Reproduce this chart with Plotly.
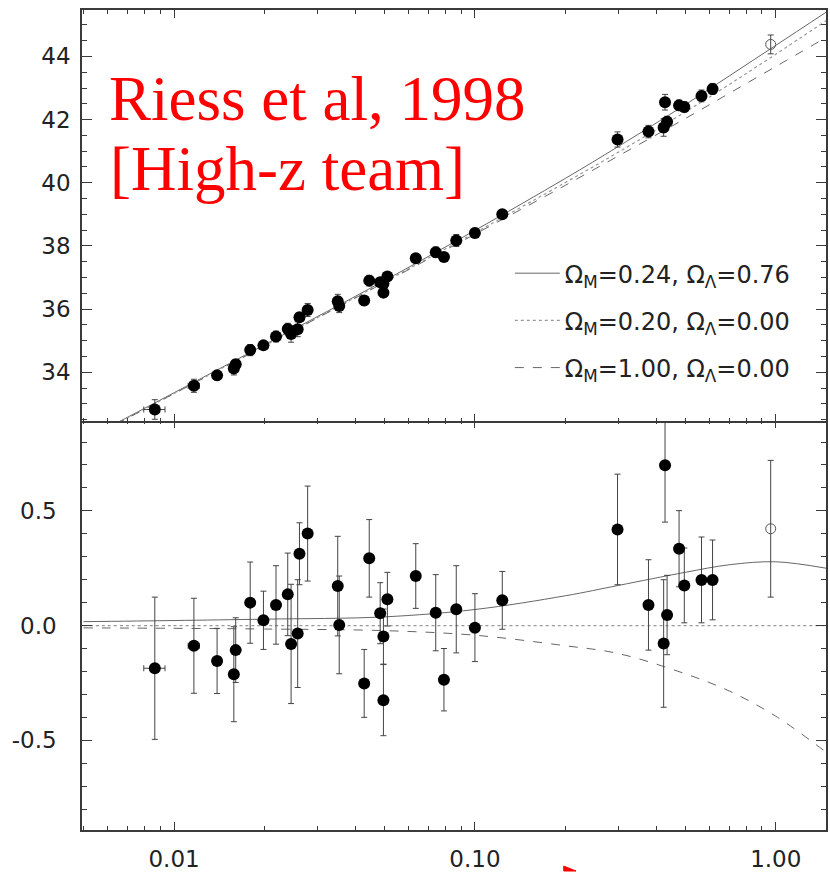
import plotly.graph_objects as go

# ---------------- data ----------------
z = [0.00863, 0.01164, 0.0139, 0.01603, 0.0158, 0.01791, 0.01982, 0.02182, 0.02387,
     0.02449, 0.02576, 0.02611, 0.0278, 0.0350, 0.0354, 0.04285, 0.04454, 0.04843,
     0.05118, 0.04965, 0.04965, 0.0636, 0.0741, 0.0789, 0.0867, 0.100, 0.1233,
     0.2979, 0.3775, 0.4285, 0.4240, 0.4353, 0.4771, 0.4966, 0.5665, 0.6165]
z_err = [0.0007, 0.0005] + [0.0] * 34
mu = [32.82, 33.57, 33.90, 34.25, 34.12, 34.70, 34.85, 35.13, 35.37,
      35.21, 35.36, 35.74, 35.97, 36.25, 36.10, 36.27, 36.90, 36.85,
      37.03, 36.80, 36.52, 37.61, 37.80, 37.65, 38.17, 38.41, 39.00,
      41.37, 41.62, 42.55, 41.75, 41.93, 42.45, 42.40, 42.75, 42.97]
d_mu = [-0.186, -0.088, -0.154, -0.107, -0.212, 0.100, 0.023, 0.090, 0.136,
        -0.080, -0.035, 0.313, 0.401, 0.172, 0.003, -0.252, 0.293, 0.054,
        0.115, -0.048, -0.325, 0.216, 0.056, -0.236, 0.071, -0.009, 0.110,
        0.419, 0.090, 0.699, -0.078, 0.046, 0.335, 0.175, 0.199, 0.199]
mu_err = [0.31, 0.207, 0.142, 0.141, 0.207, 0.177, 0.127, 0.171, 0.18,
          0.26, 0.235, 0.135, 0.207, 0.217, 0.213, 0.148, 0.169, 0.133,
          0.117, 0.12, 0.155, 0.141, 0.166, 0.136, 0.19, 0.148, 0.126,
          0.241, 0.197, 0.248, 0.278, 0.173, 0.166, 0.163, 0.187, 0.174]

# open-circle point
z_open = [0.962]
mu_open = [44.38]
d_mu_open = [0.422]
err_open = [0.298]

# model curves
curve_z = [0.005, 0.01, 0.02, 0.05, 0.1, 0.2, 0.3, 0.5, 0.7, 1.0, 1.47]
mu_lambda = [31.84, 33.35, 34.87, 36.90, 38.49, 40.14, 41.15, 42.47, 43.38, 44.35, 45.40]
mu_open_model = [31.82, 33.33, 34.84, 36.86, 38.415, 40.01, 40.97, 42.24, 43.11, 44.07, 45.13]
mu_flat_matter = [31.81, 33.32, 34.83, 36.84, 38.37, 39.92, 40.85, 42.03, 42.83, 43.68, 44.60]
res_lambda = [0.017, 0.022, 0.028, 0.038, 0.070, 0.130, 0.175, 0.232, 0.265, 0.278, 0.250]
res_open = [0.0, 0.0, 0.0, 0.0, 0.0, 0.0, 0.0, 0.0, 0.0, 0.0, 0.0]
res_flat_matter = [-0.010, -0.012, -0.015, -0.022, -0.042, -0.088, -0.122, -0.210, -0.285, -0.395, -0.552]

legend_names = ["Ω<sub>M</sub>=0.24, Ω<sub>Λ</sub>=0.76",
                "Ω<sub>M</sub>=0.20, Ω<sub>Λ</sub>=0.00",
                "Ω<sub>M</sub>=1.00, Ω<sub>Λ</sub>=0.00"]

x_tickvals = [0.01, 0.1, 1.0]
x_ticktext = ["0.01", "0.10", "1.00"]
top_tickvals = [34, 36, 38, 40, 42, 44]
bot_tickvals = [-0.5, 0.0, 0.5]
bot_ticktext = ["-0.5", "0.0", "0.5"]

# ---------------- figure ----------------
fig = go.Figure()

line_styles = [dict(color="#666666", width=1, dash="solid"),
               dict(color="#999999", width=1.2, dash="dot"),
               dict(color="#666666", width=1, dash="dash")]
top_curves = [mu_lambda, mu_open_model, mu_flat_matter]
bot_curves = [res_lambda, res_open, res_flat_matter]

for i in range(3):
    fig.add_trace(go.Scatter(x=curve_z, y=top_curves[i], mode="lines",
                             line=dict(shape="spline", **line_styles[i]),
                             name=legend_names[i], legendgroup=f"g{i}",
                             xaxis="x2", yaxis="y2", showlegend=True))
    fig.add_trace(go.Scatter(x=curve_z, y=bot_curves[i], mode="lines",
                             line=dict(shape="spline", **line_styles[i]),
                             legendgroup=f"g{i}", showlegend=False,
                             xaxis="x", yaxis="y"))

err_style = dict(type="data", color="#444444", thickness=1, width=3)

# top panel data
fig.add_trace(go.Scatter(x=z, y=mu, mode="markers",
                         marker=dict(color="black", size=12),
                         error_y=dict(array=mu_err, **err_style),
                         error_x=dict(array=z_err, **err_style),
                         xaxis="x2", yaxis="y2", showlegend=False))
fig.add_trace(go.Scatter(x=z_open, y=mu_open, mode="markers",
                         marker=dict(symbol="circle-open", color="#555555", size=10,
                                     line=dict(width=1)),
                         error_y=dict(array=err_open, **err_style),
                         xaxis="x2", yaxis="y2", showlegend=False))
# bottom panel data
fig.add_trace(go.Scatter(x=z, y=d_mu, mode="markers",
                         marker=dict(color="black", size=12),
                         error_y=dict(array=mu_err, **err_style),
                         error_x=dict(array=z_err, **err_style),
                         xaxis="x", yaxis="y", showlegend=False))
fig.add_trace(go.Scatter(x=z_open, y=d_mu_open, mode="markers",
                         marker=dict(symbol="circle-open", color="#555555", size=10,
                                     line=dict(width=1)),
                         error_y=dict(array=err_open, **err_style),
                         xaxis="x", yaxis="y", showlegend=False))

x_minor = [v * d for d in (0.001, 0.01, 0.1, 1.0) for v in range(2, 10)]
tickfont = dict(family="DejaVu Sans", size=23, color="#222222")
frame = dict(showline=True, linecolor="#3a3a3a", linewidth=1.5, mirror="allticks",
             ticks="inside", tickcolor="#3a3a3a", showgrid=False, zeroline=False)

xaxis_common = dict(type="log", range=[-2.306, 0.167], tickvals=x_tickvals,
                    ticklen=8, tickwidth=1.2,
                    minor=dict(tickmode="array", tickvals=x_minor, ticks="inside",
                               ticklen=4, tickcolor="#3a3a3a", tickwidth=1),
                    **frame)

fig.update_layout(
    width=830, height=874,
    margin=dict(l=82, r=2, t=10, b=41),
    paper_bgcolor="white", plot_bgcolor="white",
    showlegend=True,
    legend=dict(x=0.575, y=0.706, xanchor="left", yanchor="top",
                font=dict(family="DejaVu Sans", size=24, color="#222222"),
                bgcolor="rgba(0,0,0,0)", tracegroupgap=13, itemwidth=45),
    xaxis=dict(domain=[0, 1], anchor="y", ticktext=x_ticktext,
               tickfont=tickfont, ticklabelstandoff=8, **xaxis_common),
    yaxis=dict(domain=[0, 0.5], anchor="x", range=[-0.891, 0.896],
               tickvals=bot_tickvals, ticktext=bot_ticktext, tickfont=tickfont,
               ticklen=10, tickwidth=1.2, ticklabelstandoff=19,
               minor=dict(dtick=0.1, ticks="inside", ticklen=5, tickcolor="#3a3a3a",
                          tickwidth=1),
               **frame),
    xaxis2=dict(domain=[0, 1], anchor="y2", matches="x", showticklabels=False,
                **xaxis_common),
    yaxis2=dict(domain=[0.4982, 1], anchor="x2", range=[32.44, 45.47],
                tickvals=top_tickvals, tickfont=tickfont,
                ticklen=10, tickwidth=1.2, ticklabelstandoff=5,
                minor=dict(dtick=0.5, ticks="inside", ticklen=5, tickcolor="#3a3a3a",
                           tickwidth=1),
                **frame),
)

title_font = dict(family="Liberation Serif", size=63, color="#ff0000")
fig.add_annotation(text="Riess et al, 1998", xref="paper", yref="paper",
                   x=0.033, y=0.892, xanchor="left", yanchor="middle",
                   showarrow=False, font=title_font)
fig.add_annotation(text="[High-z team]", xref="paper", yref="paper",
                   x=0.035, y=0.806, xanchor="left", yanchor="middle",
                   showarrow=False, font=title_font)

# small red arrow tip at the bottom edge
fig.add_shape(type="path", xref="paper", yref="paper",
              path="M 0.6475 -0.0440 L 0.664 -0.0500 L 0.6475 -0.0500 Z",
              fillcolor="#ff0000", line=dict(color="#ff0000", width=1))

fig.write_html("out.html")
